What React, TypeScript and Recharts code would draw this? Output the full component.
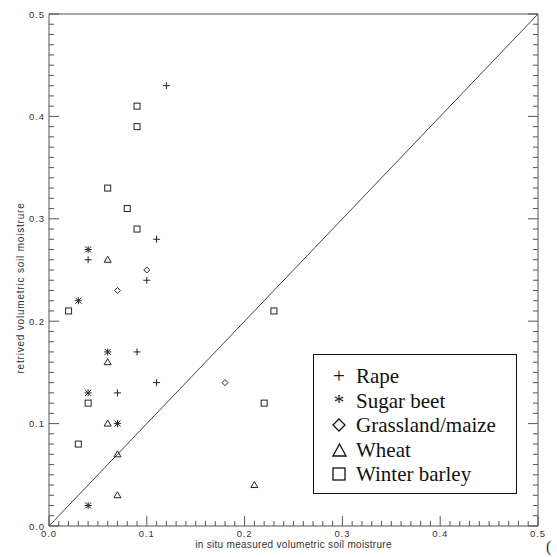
import React from 'react'
import { ScatterChart, Scatter, XAxis, YAxis, ReferenceLine, Legend, Label } from 'recharts'

type Pt = { x: number; y: number }

// in situ (x) vs retrieved (y) volumetric soil moisture, per crop
const rape: Pt[] = [
  { x: 0.12, y: 0.43 }, { x: 0.11, y: 0.28 }, { x: 0.04, y: 0.26 }, { x: 0.1, y: 0.24 },
  { x: 0.09, y: 0.17 }, { x: 0.11, y: 0.14 }, { x: 0.07, y: 0.13 },
]
const sugarBeet: Pt[] = [
  { x: 0.04, y: 0.27 }, { x: 0.03, y: 0.22 }, { x: 0.06, y: 0.17 }, { x: 0.04, y: 0.13 },
  { x: 0.07, y: 0.1 }, { x: 0.04, y: 0.02 },
]
const grassland: Pt[] = [
  { x: 0.1, y: 0.25 }, { x: 0.07, y: 0.23 }, { x: 0.18, y: 0.14 },
]
const wheat: Pt[] = [
  { x: 0.06, y: 0.26 }, { x: 0.06, y: 0.16 }, { x: 0.06, y: 0.1 }, { x: 0.07, y: 0.07 },
  { x: 0.07, y: 0.03 }, { x: 0.21, y: 0.04 },
]
const winterBarley: Pt[] = [
  { x: 0.09, y: 0.41 }, { x: 0.09, y: 0.39 }, { x: 0.06, y: 0.33 }, { x: 0.08, y: 0.31 },
  { x: 0.09, y: 0.29 }, { x: 0.02, y: 0.21 }, { x: 0.23, y: 0.21 }, { x: 0.22, y: 0.12 },
  { x: 0.04, y: 0.12 }, { x: 0.03, y: 0.08 },
]
const diagonal: Pt[] = [{ x: 0, y: 0 }, { x: 0.5, y: 0.5 }]

const domain: [number, number] = [0, 0.5]
const allTicks = Array.from({ length: 51 }, (_, i) => Number((i / 100).toFixed(2)))
const isMajor = (v: number) => Math.abs(v * 10 - Math.round(v * 10)) < 1e-6

const AXIS = '#555'
const INK = '#222'
const TICK_FONT = { fontFamily: 'Liberation Sans, Arial, sans-serif', fontSize: 9.5, fill: '#333', letterSpacing: 0.9 }

function BottomTick({ x, y, payload }: any) {
  const major = isMajor(payload.value)
  return (
    <g>
      <line x1={x} x2={x} y1={y} y2={y - (major ? 10 : 5)} stroke={AXIS} />
      {major && (
        <text x={x} y={y + 11} textAnchor="middle" {...TICK_FONT}>{payload.value.toFixed(1)}</text>
      )}
    </g>
  )
}

function LeftTick({ x, y, payload }: any) {
  const major = isMajor(payload.value)
  return (
    <g>
      <line x1={x} x2={x + (major ? 10 : 5)} y1={y} y2={y} stroke={AXIS} />
      {major && (
        <text x={x - 4} y={y + 3.5} textAnchor="end" {...TICK_FONT}>{payload.value.toFixed(1)}</text>
      )}
    </g>
  )
}

function TopTick({ x, y, payload }: any) {
  const major = isMajor(payload.value)
  return <line x1={x} x2={x} y1={y} y2={y + (major ? 10 : 5)} stroke={AXIS} />
}

function RightTick({ x, y, payload }: any) {
  const major = isMajor(payload.value)
  return <line x1={x} x2={x - (major ? 10 : 5)} y1={y} y2={y} stroke={AXIS} />
}

// IDL-like plot symbols
const PlusMark = ({ cx, cy }: any) => (
  <path d={`M${cx - 3.5},${cy}H${cx + 3.5}M${cx},${cy - 3.5}V${cy + 3.5}`} stroke={INK} fill="none" />
)
const StarMark = ({ cx, cy }: any) => (
  <path
    d={`M${cx - 3.5},${cy}H${cx + 3.5}M${cx},${cy - 3.5}V${cy + 3.5}M${cx - 3},${cy - 3}L${cx + 3},${cy + 3}M${cx - 3},${cy + 3}L${cx + 3},${cy - 3}`}
    stroke={INK}
    fill="none"
  />
)
const DiamondMark = ({ cx, cy }: any) => (
  <path d={`M${cx},${cy - 3}L${cx + 3},${cy}L${cx},${cy + 3}L${cx - 3},${cy}Z`} stroke={INK} fill="none" />
)
const TriangleMark = ({ cx, cy }: any) => (
  <path d={`M${cx},${cy - 3.5}L${cx + 3.5},${cy + 2.5}L${cx - 3.5},${cy + 2.5}Z`} stroke={INK} fill="none" />
)
const SquareMark = ({ cx, cy }: any) => (
  <rect x={cx - 3} y={cy - 3} width={6} height={6} stroke={INK} fill="none" />
)

const legendRows = [
  { name: 'Rape', icon: <span style={{ fontSize: 21 }}>+</span> },
  { name: 'Sugar beet', icon: <span style={{ fontSize: 21, position: 'relative', top: 2 }}>*</span> },
  {
    name: 'Grassland/maize',
    icon: (
      <svg width={14} height={14}><path d="M7,1L13,7L7,13L1,7Z" stroke="#111" strokeWidth={1.3} fill="none" /></svg>
    ),
  },
  {
    name: 'Wheat',
    icon: (
      <svg width={15} height={14}><path d="M7.5,1L14,13H1Z" stroke="#111" strokeWidth={1.3} fill="none" /></svg>
    ),
  },
  {
    name: 'Winter barley',
    icon: (
      <svg width={14} height={14}><rect x={1} y={1} width={12} height={12} stroke="#111" strokeWidth={1.3} fill="none" /></svg>
    ),
  },
]

function LegendBox() {
  return (
    <div
      style={{
        boxSizing: 'border-box',
        width: 204,
        height: 140,
        border: '1.5px solid #111',
        background: '#fff',
        paddingTop: 9,
        fontFamily: 'Liberation Serif, Times New Roman, serif',
        fontSize: 21,
        color: '#111',
      }}
    >
      {legendRows.map(r => (
        <div key={r.name} style={{ display: 'flex', alignItems: 'center', height: 24.5 }}>
          <span style={{ width: 26, marginLeft: 12, display: 'flex', justifyContent: 'center', alignItems: 'center' }}>
            {r.icon}
          </span>
          <span style={{ marginLeft: 4, lineHeight: '24px' }}>{r.name}</span>
        </div>
      ))}
    </div>
  )
}

export default function App() {
  return (
    <div style={{ position: 'absolute', left: 0, top: 0, width: 557, height: 557, background: '#fff' }}>
      <ScatterChart width={557} height={557} margin={{ top: 13, right: 18, bottom: 30, left: 48 }}>
        <XAxis
          type="number"
          dataKey="x"
          domain={domain}
          allowDataOverflow
          ticks={allTicks}
          interval={0}
          height={1}
          tickSize={0}
          tickMargin={0}
          tick={BottomTick}
          axisLine={{ stroke: AXIS }}
          tickLine={false}
        >
          <Label
            value="in situ measured volumetric soil moistrure"
            position="bottom"
            offset={14}
            style={{ fontFamily: 'Liberation Sans, Arial, sans-serif', fontSize: 10, fill: '#333', letterSpacing: 0.3 }}
          />
        </XAxis>
        <YAxis
          type="number"
          dataKey="y"
          domain={domain}
          allowDataOverflow
          ticks={allTicks}
          interval={0}
          width={1}
          tickSize={0}
          tickMargin={0}
          tick={LeftTick}
          axisLine={{ stroke: AXIS }}
          tickLine={false}
        >
          <Label
            content={({ viewBox }: any) => {
              const cx = viewBox.x + viewBox.width - 25
              const cy = viewBox.y + viewBox.height / 2 + 18
              return (
                <text
                  x={cx}
                  y={cy}
                  transform={`rotate(-90 ${cx} ${cy})`}
                  textAnchor="middle"
                  fontFamily="Liberation Sans, Arial, sans-serif"
                  fontSize={10}
                  fill="#333"
                  letterSpacing={0.8}
                >
                  retrived volumetric soil moistrure
                </text>
              )
            }}
          />
        </YAxis>
        <XAxis
          xAxisId="top"
          orientation="top"
          type="number"
          domain={domain}
          allowDataOverflow
          ticks={allTicks}
          interval={0}
          height={1}
          tickSize={0}
          tickMargin={0}
          tick={TopTick}
          axisLine={{ stroke: AXIS }}
          tickLine={false}
        />
        <YAxis
          yAxisId="right"
          orientation="right"
          type="number"
          domain={domain}
          allowDataOverflow
          ticks={allTicks}
          interval={0}
          width={1}
          tickSize={0}
          tickMargin={0}
          tick={RightTick}
          axisLine={{ stroke: AXIS }}
          tickLine={false}
        />
        <ReferenceLine
          segment={diagonal}
          stroke="#444"
          strokeWidth={1}
          ifOverflow="visible"
        />
        <Scatter name="Rape" data={rape} shape={PlusMark} isAnimationActive={false} />
        <Scatter name="Sugar beet" data={sugarBeet} shape={StarMark} isAnimationActive={false} />
        <Scatter name="Grassland/maize" data={grassland} shape={DiamondMark} isAnimationActive={false} />
        <Scatter name="Wheat" data={wheat} shape={TriangleMark} isAnimationActive={false} />
        <Scatter name="Winter barley" data={winterBarley} shape={SquareMark} isAnimationActive={false} />
        <Legend
          layout="vertical"
          align="center"
          verticalAlign="middle"
          wrapperStyle={{ left: 313, top: 354, width: 204, height: 140 }}
          content={() => <LegendBox />}
        />
      </ScatterChart>
      <span
        style={{
          position: 'absolute',
          left: 546,
          top: 538,
          fontFamily: 'Liberation Serif, serif',
          fontSize: 16,
          color: '#333',
        }}
      >
        (
      </span>
    </div>
  )
}
